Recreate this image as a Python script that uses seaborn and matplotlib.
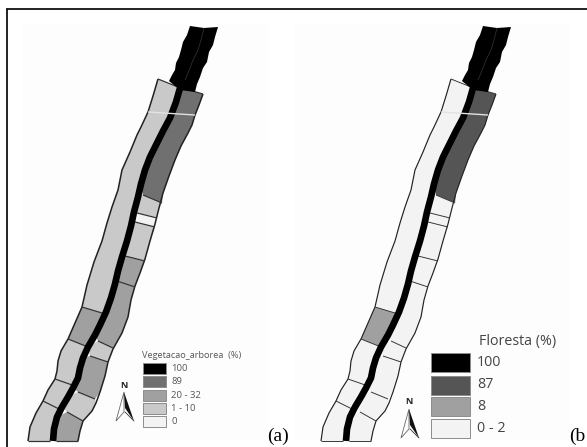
import matplotlib
matplotlib.use('Agg')
import matplotlib.pyplot as plt
import seaborn as sns
import pandas as pd

sns.set_theme(style='white')

# digitised map outlines, pixel coordinates of the left panel
left_outer = [(158,79),(153,96),(148,112),(141,127),(137,135),(130,152),(122,170),(118,190),(112,207),(107,223),(102,241),(94,262),(87,285),
              (82,307),(75,323),(68,339),(61,351),(58,361),(57,371),(55,379),(48,390),(43,401),(36,413),(30,427),(28,441)]
right_outer = [(203,94),(199,105),(195,115),(192,125),(188,133),(181,146),(175,160),(169,176),(163,193),(159,208),(155,224),(150,241),(145,259),
               (140,273),(135,286),(131,300),(128,317),(122,333),(113,349),(108,362),(105,376),(100,392),(96,403),(92,411),(83,421),(80,431),(78,441)]
river = [(180,88),(176,102),(170,118),(163,131),(157,143),(150,157),(145,170),(141,184),(138,197),(134,212),(131,226),(127,241),(122,257),(118,271),
         (115,284),(111,298),(106,312),(100,325),(95,335),(88,347),(83,358),(80,368),(78,378),(73,388),(68,397),(62,407),(57,417),(54,429),(53,441)]
headwater = [(190,26),(204,28),(218,27),(215,37),(213,45),(209,52),(207,62),(203,68),(200,77),(197,84),(195,92),(180,90),(169,81),(172,75),(175,70),
             (176,63),(179,57),(181,50),(183,42),(187,35)]
headwater_line = [(204,28),(201,40),(198,50),(193,60),(190,68),(185,80)]
white_line = [(148,112),(195,115)]

# cross lines that split each bank: (outer x, outer y, inner x, inner y)
left_cuts = [(158,79,178,87),(82,307,102,313),(68,339,88,347),(55,379,75,386),(43,401,63,411),(28,441,50,441)]
right_cuts = [(203,94,182,88),(162,203,143,195),(157,218,137,213),(155,227,135,222),(145,261,125,256),(135,287,117,281),
              (113,348,98,341),(108,362,90,356),(95,399,78,392),(83,421,67,412),(78,441,56,441)]

# class of each cell, top to bottom
left_a = ['c', 'b', 'c', 'c', 'c']
right_a = ['d', 'c', 'w', 'c', 'b', 'b', 'c', 'b', 'c', 'b']
left_b = ['w', 'b', 'w', 'w', 'w']
right_b = ['d2', 'w', 'w', 'w', 'w', 'w', 'w', 'w', 'w', 'w']
grays = {'c': '#c9c9c9', 'b': '#a0a0a0', 'w': '#f3f3f3', 'd': '#707070', 'd2': '#555555', 'k': '#000000'}

# legends
legend_a_title = 'Vegetacao_arborea  (%)'
legend_a_labels = ['100', '89', '20 - 32', '1 - 10', '0']
legend_a_colors = ['#000000', '#707070', '#a0a0a0', '#c9c9c9', '#f3f3f3']
legend_a_tops = [363, 376, 390, 403, 416]
legend_b_title = 'Floresta (%)'
legend_b_labels = ['100', '87', '8', '0 - 2']
legend_b_colors = ['#000000', '#555555', '#a0a0a0', '#f3f3f3']
legend_b_tops = [353, 376, 397, 419]


def cell(outer, inner, top, bot):
    pts = [(top[0], top[1])]
    pts += [p for p in outer if top[1] < p[1] < bot[1]]
    pts += [(bot[0], bot[1]), (bot[2], bot[3])]
    pts += [p for p in reversed(inner) if top[3] < p[1] < bot[3]]
    pts += [(top[2], top[3])]
    return pts


def line(ax, pts, color, lw, dx=0):
    d = pd.DataFrame(pts, columns=['x', 'y'])
    d['x'] = d['x'] + dx
    sns.lineplot(data=d, x='x', y='y', sort=False, estimator=None, color=color, linewidth=lw, ax=ax, legend=False,
                 solid_capstyle='butt', solid_joinstyle='round')


def draw_bank(ax, outer, cuts, classes, dx, lw):
    for i in range(len(classes)):
        poly = cell(outer, river, cuts[i], cuts[i + 1])
        ax.fill([p[0] + dx for p in poly], [p[1] for p in poly], color=grays[classes[i]], lw=0, zorder=1)
    line(ax, outer, '#222222', lw, dx)
    for c in cuts:
        line(ax, [(c[0], c[1]), (c[2], c[3])], '#333333', lw * 0.8, dx)


def north(ax, x, y, size, fs):
    ax.text(x, y - 7 * size, 'N', ha='center', va='center', fontsize=fs, fontweight='bold', color='#222222', family='Open Sans')
    ax.fill([x, x - 8 * size, x, x], [y, y + 29 * size, y + 20 * size, y], facecolor='white', edgecolor='#666666', lw=0.6, zorder=3)
    ax.fill([x, x + 10 * size, x + 1 * size], [y, y + 29 * size, y + 16 * size], color='#111111', lw=0, zorder=3)
    ax.plot([x + 1 * size, x + 10 * size], [y + 20 * size, y + 29 * size], color='#333333', lw=0.6, zorder=3)


fig = plt.figure(figsize=(5.87, 4.47), dpi=100)
ax = fig.add_axes([0, 0, 1, 1])
ax.set_xlim(0, 587)
ax.set_ylim(447, 0)

# faint scan background behind each map
ax.fill([22, 268, 268, 22], [25, 25, 441, 441], color='#fdfdfd', lw=0, zorder=0)
ax.fill([294, 570, 570, 294], [25, 25, 441, 441], color='#fdfdfd', lw=0, zorder=0)

# frame, only top and left show up in the crop
ax.plot([7, 7], [447, 9], color='#111111', lw=1.3)
ax.plot([7, 587], [9, 9], color='#111111', lw=1.3)

panels = [(0, left_a, right_a, 1.1), (293, left_b, right_b, 0.85)]
for dx, lc, rc, lw in panels:
    draw_bank(ax, left_outer, left_cuts, lc, dx, lw)
    draw_bank(ax, right_outer, right_cuts, rc, dx, lw)
    line(ax, river, '#000000', 4.8, dx)
    ax.fill([p[0] + dx for p in headwater], [p[1] for p in headwater], color='#000000', lw=0, zorder=2)
    line(ax, headwater_line, '#2e2e2e', 0.6, dx)
    line(ax, white_line, '#e2e2e2', 1.0, dx)

# legend of the left map
ax.text(142, 355, legend_a_title, fontsize=6.6, color='#555555', va='center', family='Open Sans')
for lab, col, top in zip(legend_a_labels, legend_a_colors, legend_a_tops):
    ax.fill([143, 166, 166, 143], [top, top, top + 11, top + 11], facecolor=col, edgecolor='#8c8c8c', lw=0.7)
    ax.text(171, top + 5.5, lab, fontsize=6.8, color='#555555', va='center', family='Open Sans')

# legend of the right map
ax.text(479, 341, legend_b_title, fontsize=10.3, color='#444444', va='center', family='Open Sans')
for lab, col, top in zip(legend_b_labels, legend_b_colors, legend_b_tops):
    ax.fill([431, 470, 470, 431], [top, top, top + 19, top + 19], facecolor=col, edgecolor='#8c8c8c', lw=0.7)
    ax.text(477, top + 9, lab, fontsize=10.3, color='#444444', va='center', family='Open Sans')

north(ax, 124, 392, 1.0, 6.5)
north(ax, 409, 409, 1.0, 6.5)

ax.text(267, 436, '(a)', fontsize=14, family='Liberation Serif', color='black', va='center')
ax.text(569, 436, '(b', fontsize=14, family='Liberation Serif', color='black', va='center')

ax.set_axis_off()
fig.savefig('out.png', dpi=100)
